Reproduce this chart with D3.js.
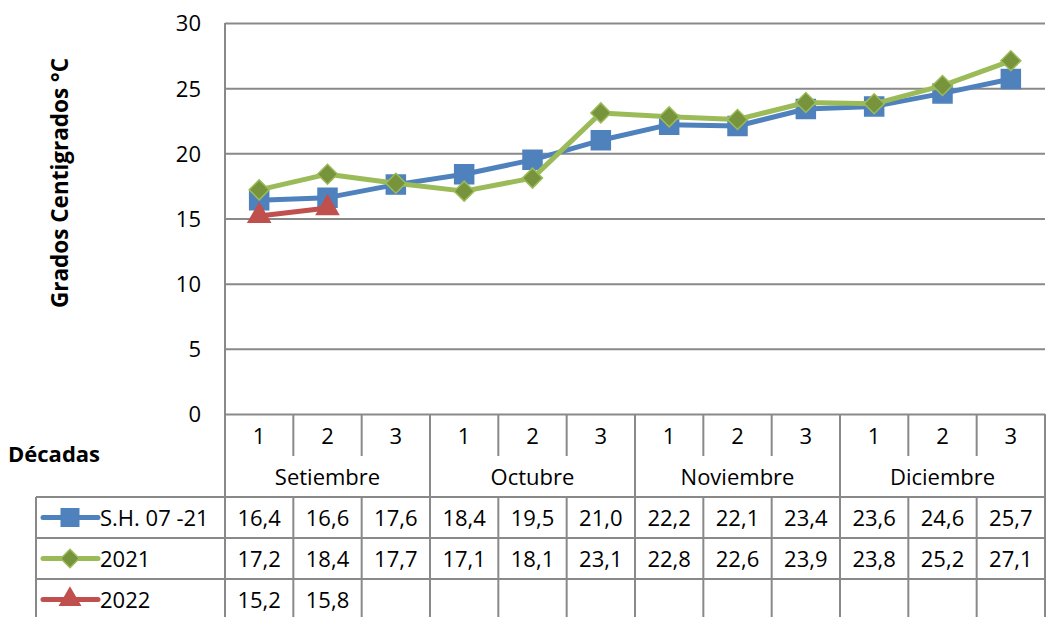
<!DOCTYPE html>
<html>
<head>
<meta charset="utf-8">
<script src="https://cdn.jsdelivr.net/npm/d3@7"></script>
<style>
  body { margin: 0; background: #fff; }
  text { font-family: "Open Sans", "Noto Sans", sans-serif; fill: #000; }
</style>
</head>
<body>
<script>
var decadas = ["1", "2", "3", "1", "2", "3", "1", "2", "3", "1", "2", "3"];
var meses = ["Setiembre", "Octubre", "Noviembre", "Diciembre"];
var serieNombres = ["S.H. 07 -21", "2021", "2022"];
var valoresSH = [16.4, 16.6, 17.6, 18.4, 19.5, 21.0, 22.2, 22.1, 23.4, 23.6, 24.6, 25.7];
var valores2021 = [17.2, 18.4, 17.7, 17.1, 18.1, 23.1, 22.8, 22.6, 23.9, 23.8, 25.2, 27.1];
var valores2022 = [15.2, 15.8];
var yTicks = [0, 5, 10, 15, 20, 25, 30];

function render() {
  var W = 1046, H = 617;
  var left = 225, right = 1045, top = 23, bottom = 414;
  var gridColor = "#898989";

  var svg = d3.select("body").append("svg")
      .attr("width", W)
      .attr("height", H);

  var x = d3.scaleBand().domain(d3.range(12)).range([left, right]);
  var y = d3.scaleLinear().domain([0, 30]).range([bottom, top]);
  var cw = x.bandwidth();

  // y axis + gridlines
  var yAxis = svg.append("g")
      .attr("transform", "translate(" + left + ",0)")
      .call(d3.axisLeft(y).tickValues(yTicks).tickSize(-(right - left)).tickPadding(24));
  yAxis.select(".domain").remove();
  yAxis.selectAll(".tick line").attr("stroke", gridColor).attr("stroke-width", 2);
  yAxis.selectAll(".tick text")
      .style("font-size", "22px")
      .style("font-family", "'Open Sans', sans-serif")
      .attr("dy", "0.36em");

  // left axis line down through table
  svg.append("line")
      .attr("x1", left).attr("x2", left)
      .attr("y1", top).attr("y2", H)
      .attr("stroke", gridColor).attr("stroke-width", 2);

  // table geometry
  var rowDec = [bottom, 456], rowMes = [456, 497];
  var dataRows = [497, 538, 579, 620];
  var tableLeft = 36;

  var grid = svg.append("g").attr("stroke", gridColor).attr("stroke-width", 2);
  grid.append("line").attr("x1", tableLeft).attr("x2", right).attr("y1", dataRows[0]).attr("y2", dataRows[0]);
  grid.append("line").attr("x1", tableLeft).attr("x2", right).attr("y1", dataRows[1]).attr("y2", dataRows[1]);
  grid.append("line").attr("x1", tableLeft).attr("x2", right).attr("y1", dataRows[2]).attr("y2", dataRows[2]);
  grid.append("line").attr("x1", tableLeft).attr("x2", tableLeft).attr("y1", dataRows[0]).attr("y2", H);

  // vertical column lines
  d3.range(1, 13).forEach(function(i) {
    var xx = left + i * cw;
    if (i % 3 === 0) {
      grid.append("line").attr("x1", xx).attr("x2", xx).attr("y1", bottom).attr("y2", H);
    } else {
      grid.append("line").attr("x1", xx).attr("x2", xx).attr("y1", rowDec[0]).attr("y2", rowDec[1]);
      grid.append("line").attr("x1", xx).attr("x2", xx).attr("y1", dataRows[0]).attr("y2", H);
    }
  });

  // category labels
  svg.append("g").selectAll("text").data(decadas).enter().append("text")
      .attr("x", function(d, i) { return x(i) + cw / 2; })
      .attr("y", (rowDec[0] + rowDec[1]) / 2 + 1)
      .attr("dy", "0.36em")
      .attr("text-anchor", "middle")
      .style("font-size", "22px")
      .text(function(d) { return d; });

  svg.append("g").selectAll("text").data(meses).enter().append("text")
      .attr("x", function(d, i) { return x(i * 3) + cw * 1.5; })
      .attr("y", (rowMes[0] + rowMes[1]) / 2 + 1)
      .attr("dy", "0.36em")
      .attr("text-anchor", "middle")
      .style("font-size", "22px")
      .text(function(d) { return d; });

  svg.append("text")
      .attr("x", 8).attr("y", 454)
      .attr("dy", "0.36em")
      .style("font-size", "22px").style("font-weight", "bold")
      .text("Décadas");

  svg.append("text")
      .attr("transform", "translate(60,183) rotate(-90)")
      .attr("text-anchor", "middle")
      .attr("dy", "0.36em")
      .style("font-size", "22.5px").style("font-weight", "bold")
      .text("Grados Centigrados °C");

  // series
  var series = [
    { name: serieNombres[0], values: valoresSH, color: "#4F81BD", symbol: d3.symbolSquare, size: 361, rot: 0, fill: "#4F81BD", stroke: "#4F81BD" },
    { name: serieNombres[1], values: valores2021, color: "#9BBB59", symbol: d3.symbolSquare, size: 200, rot: 45, fill: "#77933C", stroke: "#9BBB59" },
    { name: serieNombres[2], values: valores2022, color: "#C0504D", symbol: d3.symbolTriangle, size: 210, rot: 0, fill: "#C0504D", stroke: "#C0504D" }
  ];

  var line = d3.line()
      .x(function(d, i) { return x(i) + cw / 2; })
      .y(function(d) { return y(d); });

  series.forEach(function(s, k) {
    var g = svg.append("g");
    g.append("path")
        .datum(s.values)
        .attr("d", line)
        .attr("fill", "none")
        .attr("stroke", s.color)
        .attr("stroke-width", 5)
        .attr("stroke-linejoin", "round");
    g.selectAll("path.m").data(s.values).enter().append("path")
        .attr("class", "m")
        .attr("d", d3.symbol().type(s.symbol).size(s.size))
        .attr("transform", function(d, i) {
          return "translate(" + (x(i) + cw / 2) + "," + y(d) + ") rotate(" + s.rot + ")";
        })
        .attr("fill", s.fill)
        .attr("stroke", s.stroke)
        .attr("stroke-width", 1.5);

    // table row
    var ry = (dataRows[k] + dataRows[k + 1]) / 2;
    g.append("line")
        .attr("x1", 43).attr("x2", 98).attr("y1", ry).attr("y2", ry)
        .attr("stroke", s.color).attr("stroke-width", 5)
        .attr("stroke-linecap", "round");
    g.append("path")
        .attr("d", d3.symbol().type(s.symbol).size(s.size * 0.85))
        .attr("transform", "translate(70," + ry + ") rotate(" + s.rot + ")")
        .attr("fill", s.fill).attr("stroke", s.stroke).attr("stroke-width", 1.5);
    g.append("text")
        .attr("x", 100).attr("y", ry + 1)
        .attr("dy", "0.36em")
        .style("font-size", "22px")
        .text(s.name);
    g.selectAll("text.v").data(s.values).enter().append("text")
        .attr("class", "v")
        .attr("x", function(d, i) { return x(i) + cw / 2; })
        .attr("y", ry + 1)
        .attr("dy", "0.36em")
        .attr("text-anchor", "middle")
        .style("font-size", "22px")
        .text(function(d) { return d3.format(".1f")(d).replace(".", ","); });
  });
}
render();
</script>
</body>
</html>
